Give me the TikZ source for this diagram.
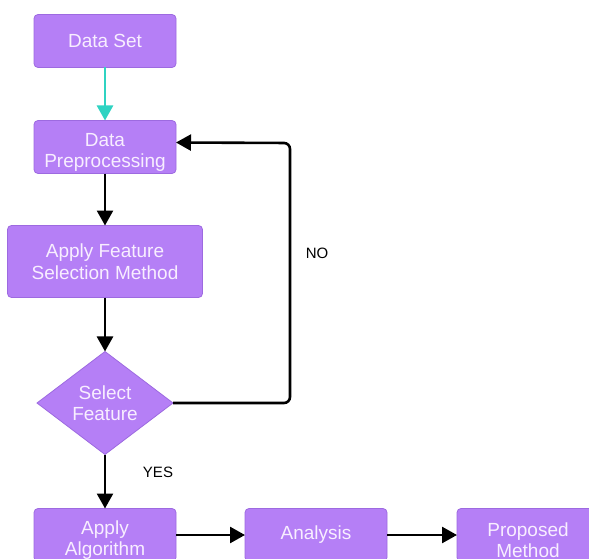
\documentclass[tikz,border=0pt]{standalone}
\usepackage{fontspec}
\setmainfont{Liberation Sans}
\usepackage{xcolor}
\usetikzlibrary{arrows.meta}
\usetikzlibrary{positioning}
\usetikzlibrary{shapes.geometric}
\definecolor{boxfill}{HTML}{B57FF6}
\definecolor{boxline}{HTML}{9D6AE0}
\definecolor{boxtext}{HTML}{F8EEFF}
\definecolor{teal}{HTML}{2FD3C2}
\newcommand{\sinkline}{\rule{0pt}{24pt}}
\tikzset{
stepbox/.style = {rectangle, rounded corners=4pt, fill=boxfill, draw=boxline,
                  line width=0.8pt, text=boxtext, align=center, inner sep=0pt,
                  outer sep=0pt, minimum width=142pt, minimum height=53pt,
                  font=\fontsize{19}{21.5}\selectfont},
decide/.style = {diamond, fill=boxfill, draw=boxline, line width=0.8pt,
                 text=boxtext, align=center, inner sep=0pt, outer sep=0pt,
                 aspect=1.32, minimum width=136pt, minimum height=103pt,
                 font=\fontsize{19}{21.5}\selectfont},
flow/.style = {line width=2.6pt, -{Triangle[length=15pt,width=16pt]}},
tag/.style = {font=\fontsize{15}{18}\selectfont, text=black}
}

\begin{document}
\begin{tikzpicture}[x=1pt, y=-1pt]
    \useasboundingbox (0,0) rectangle (589,559);

    \node[stepbox] (dataset) at (105,41) {Data Set};
    \node[stepbox, below=53pt of dataset] (preproc) {\sinkline Data\\Preprocessing};
    \node[stepbox, below=52pt of preproc, minimum width=195pt,
          minimum height=72pt] (featsel) {Apply Feature\\Selection Method};
    \node[decide, below=54pt of featsel] (select) {Select\\Feature};
    \node[stepbox, below=54pt of select] (algo) {\sinkline Apply\\Algorithm};
    \node[stepbox, right=69pt of algo] (analysis) {Analysis};
    \node[stepbox, right=70pt of analysis] (proposed) {\sinkline Proposed\\Method};

    \coordinate (loopx) at (290,143);

    \path
    (dataset) edge[flow, teal] (preproc)
    (preproc) edge[flow] (featsel)
    (featsel) edge[flow] (select)
    (select) edge[flow] (algo)
    (algo) edge[flow] (analysis)
    (analysis) edge[flow] (proposed);

    \draw[flow, rounded corners=6pt] (select.east) -| (loopx)
        -- ([yshift=4.5pt]preproc.east);

    \node[tag] (yes) at (158,472) {YES};
    \node[tag] (no) at (317,253) {NO};
\end{tikzpicture}
\end{document}
